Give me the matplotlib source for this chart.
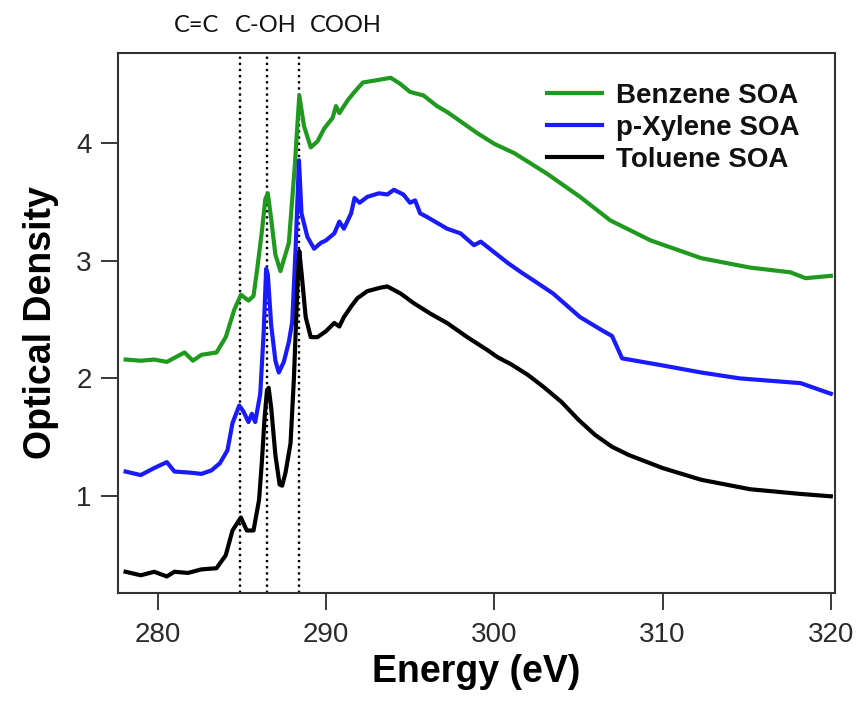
import matplotlib
matplotlib.use("Agg")
import matplotlib.pyplot as plt

# ---------------- data ----------------
tol_e = [278.1, 279.0, 279.8, 280.55, 281.0, 281.8, 282.6, 283.5, 284.05, 284.45,
         284.95, 285.3, 285.7, 286.03, 286.2, 286.35, 286.5, 286.6, 286.75, 287.0,
         287.25, 287.4, 287.6, 287.9, 288.1, 288.3, 288.42, 288.55, 288.8, 289.1,
         289.5, 290.0, 290.5, 290.8, 291.07, 291.5, 291.87, 292.46, 293.25, 293.65,
         294.44, 295.2, 296.2, 297.2, 298.4, 299.6, 300.2, 301.0, 302.0, 303.0,
         304.0, 305.0, 306.0, 307.0, 308.0, 310.0, 312.3, 315.2, 318.2, 320.0]
tol_od = [0.36, 0.33, 0.36, 0.32, 0.36, 0.35, 0.38, 0.39, 0.50, 0.71,
          0.82, 0.71, 0.71, 0.97, 1.30, 1.65, 1.90, 1.92, 1.75, 1.35,
          1.10, 1.09, 1.20, 1.45, 2.00, 2.75, 3.08, 2.90, 2.52, 2.35,
          2.35, 2.40, 2.47, 2.44, 2.52, 2.61, 2.68, 2.74, 2.77, 2.78,
          2.72, 2.64, 2.55, 2.47, 2.35, 2.24, 2.18, 2.12, 2.03, 1.92,
          1.80, 1.65, 1.52, 1.42, 1.35, 1.24, 1.14, 1.06, 1.02, 1.00]

xyl_e = [278.1, 279.0, 279.8, 280.55, 281.0, 282.0, 282.6, 283.2, 283.7, 284.15,
         284.45, 284.85, 285.1, 285.4, 285.6, 285.8, 286.1, 286.3, 286.45, 286.55,
         286.75, 287.0, 287.2, 287.5, 287.8, 288.0, 288.2, 288.4, 288.55, 288.9,
         289.3, 289.7, 290.0, 290.5, 290.8, 291.07, 291.5, 291.7, 292.0, 292.46,
         293.15, 293.65, 294.04, 294.6, 295.0, 295.3, 295.6, 296.0, 296.6, 297.2,
         298.0, 298.8, 299.2, 300.0, 300.8, 301.6, 302.35, 303.5, 305.1, 306.5,
         307.0, 307.6, 310.0, 312.3, 314.6, 318.2, 320.0]
xyl_od = [1.21, 1.18, 1.24, 1.29, 1.21, 1.20, 1.19, 1.22, 1.28, 1.39,
          1.62, 1.77, 1.72, 1.63, 1.70, 1.63, 1.87, 2.38, 2.93, 2.88,
          2.45, 2.15, 2.05, 2.14, 2.31, 2.48, 3.10, 3.85, 3.40, 3.20,
          3.10, 3.15, 3.17, 3.23, 3.33, 3.27, 3.40, 3.53, 3.49, 3.54,
          3.57, 3.56, 3.60, 3.56, 3.49, 3.51, 3.40, 3.37, 3.32, 3.27,
          3.23, 3.13, 3.16, 3.07, 2.98, 2.90, 2.83, 2.72, 2.52, 2.40,
          2.36, 2.17, 2.11, 2.05, 2.00, 1.96, 1.87]

ben_e = [278.1, 279.0, 279.8, 280.55, 281.6, 282.1, 282.6, 283.5, 284.05, 284.55,
         284.95, 285.4, 285.7, 285.93, 286.2, 286.4, 286.55, 286.75, 287.0, 287.3,
         287.8, 288.15, 288.42, 288.7, 289.1, 289.5, 289.9, 290.4, 290.6, 290.8,
         291.3, 291.7, 292.2, 293.05, 293.85, 294.4, 295.0, 295.8, 296.6, 297.2,
         298.0, 299.0, 300.0, 301.2, 303.1, 305.1, 306.9, 309.3, 312.3, 315.2,
         317.6, 318.5, 320.0]
ben_od = [2.16, 2.15, 2.16, 2.14, 2.22, 2.15, 2.20, 2.22, 2.35, 2.58,
          2.71, 2.66, 2.70, 2.94, 3.25, 3.52, 3.57, 3.35, 3.05, 2.91,
          3.15, 3.80, 4.40, 4.14, 3.96, 4.01, 4.12, 4.21, 4.31, 4.25,
          4.36, 4.43, 4.51, 4.53, 4.55, 4.50, 4.43, 4.40, 4.31, 4.26,
          4.18, 4.08, 3.99, 3.91, 3.74, 3.54, 3.34, 3.17, 3.02, 2.94,
          2.90, 2.85, 2.87]

series_labels = ["Benzene SOA", "p-Xylene SOA", "Toluene SOA"]
series_colors = ["#1f9a1f", "#1a1aff", "#000000"]
peak_positions = [284.9, 286.5, 288.4]
peak_labels = ["C=C", "C-OH", "COOH"]
x_ticks = [280, 290, 300, 310, 320]
y_ticks = [1, 2, 3, 4]

# ---------------- plot ----------------
plt.rcParams['font.family'] = ['Liberation Sans', 'DejaVu Sans']
fig = plt.figure(figsize=(8.59, 7.05), dpi=100)
ax = fig.add_axes([0.1374, 0.1589, 0.9721 - 0.1374, 0.9248 - 0.1589])

lw = 3.0
ax.plot(ben_e, ben_od, color=series_colors[0], lw=lw, label=series_labels[0],
        solid_joinstyle="round")
ax.plot(xyl_e, xyl_od, color=series_colors[1], lw=lw, label=series_labels[1],
        solid_joinstyle="round")
ax.plot(tol_e, tol_od, color=series_colors[2], lw=lw, label=series_labels[2],
        solid_joinstyle="round")

for p in peak_positions:
    ax.axvline(p, color="black", lw=1.7, ls=(0, (1, 1.6)), zorder=0)

ax.set_xlim(277.65, 320.25)
ax.set_ylim(0.18, 4.76)
ax.set_xticks(x_ticks)
ax.set_yticks(y_ticks)
ax.tick_params(direction="out", length=12, width=1.3, labelsize=20,
               colors="#2a2a2a", pad=7)
ax.tick_params(axis="x", pad=9)
for s in ax.spines.values():
    s.set_linewidth(1.5)
    s.set_color("#333333")

ax.set_xlabel("Energy (eV)", fontsize=27, fontweight="bold", labelpad=4)
ax.set_ylabel("Optical Density", fontsize=27, fontweight="bold", labelpad=12)

leg = ax.legend(loc="upper left", bbox_to_anchor=(0.598, 0.945), frameon=False,
                fontsize=20, handlelength=2.0, handletextpad=0.5,
                labelspacing=0.22, borderpad=0, borderaxespad=0)
for t in leg.get_texts():
    t.set_fontweight("bold")
    t.set_color("#111111")
for h in leg.get_lines():
    h.set_linewidth(3.0)

label_x = [197, 266, 346]
for lab, px in zip(peak_labels, label_x):
    fig.text(px / 859, 1 - 26 / 705, lab, ha="center", va="center",
             fontsize=17, family=["Lato", "DejaVu Sans"], color="#111111")

fig.savefig("out.png", dpi=100)
